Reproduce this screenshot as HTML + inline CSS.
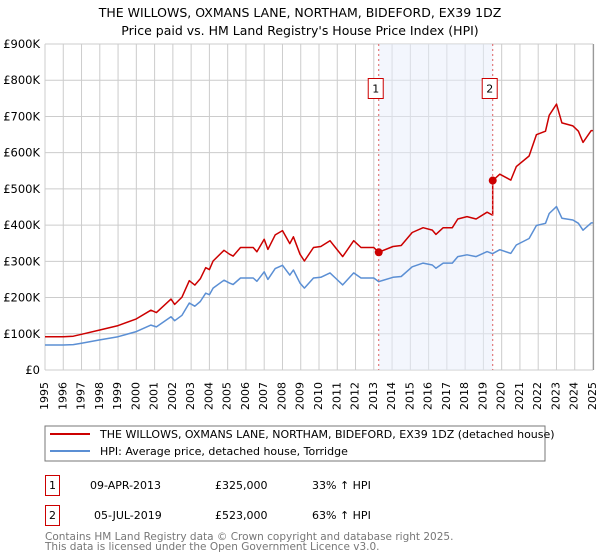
<!DOCTYPE html>
<html><head><meta charset="utf-8">
<style>
body{margin:0;background:#fff;font-family:"DejaVu Sans","Liberation Sans",sans-serif;}
#wrap{position:relative;width:600px;height:560px;overflow:hidden;}
svg text{font-family:"DejaVu Sans","Liberation Sans",sans-serif;}
.xt{position:absolute;top:382px;width:14px;height:34px;font-size:11px;line-height:14px;white-space:nowrap;color:#000;writing-mode:vertical-rl;writing-mode:sideways-lr;text-align:right;}
</style></head>
<body>
<div id="wrap">
<svg id="chart" width="600" height="560" style="position:absolute;left:0;top:0">
<text x="300" y="17" text-anchor="middle" font-size="12.5" fill="#000">THE WILLOWS, OXMANS LANE, NORTHAM, BIDEFORD, EX39 1DZ</text>
<text x="300" y="35" text-anchor="middle" font-size="12.5" fill="#000">Price paid vs. HM Land Registry's House Price Index (HPI)</text>
<g id="grid"></g>
<g id="shade"></g>
<g id="series"></g>
<g id="axes"></g>
<rect x="45" y="426" width="500" height="35" fill="#fff" stroke="#777" stroke-width="1"/>
<line x1="50" y1="434" x2="90" y2="434" stroke="#cc0000" stroke-width="2"/>
<text x="100" y="438" font-size="11">THE WILLOWS, OXMANS LANE, NORTHAM, BIDEFORD, EX39 1DZ (detached house)</text>
<line x1="50" y1="451" x2="90" y2="451" stroke="#5b8fd4" stroke-width="2"/>
<text x="100" y="455" font-size="11">HPI: Average price, detached house, Torridge</text>
<g>
<rect x="45.5" y="475.5" width="14" height="20" fill="#fff" stroke="#cc0000"/>
<text x="52.5" y="489" text-anchor="middle" font-size="11">1</text>
<text x="90" y="489" font-size="11">09-APR-2013</text>
<text x="215" y="489" font-size="11">£325,000</text>
<text x="312" y="489" font-size="11">33% ↑ HPI</text>
</g>
<g>
<rect x="45.5" y="505.5" width="14" height="20" fill="#fff" stroke="#cc0000"/>
<text x="52.5" y="519" text-anchor="middle" font-size="11">2</text>
<text x="94" y="519" font-size="11">05-JUL-2019</text>
<text x="215" y="519" font-size="11">£523,000</text>
<text x="312" y="519" font-size="11">63% ↑ HPI</text>
</g>
<text x="45" y="540" font-size="10.5" fill="#777">Contains HM Land Registry data © Crown copyright and database right 2025.</text>
<text x="45" y="550" font-size="10.5" fill="#777">This data is licensed under the Open Government Licence v3.0.</text>
</svg>
<div id="xlabels"></div>
</div>
<script>
const yearTicks=[1995,1996,1997,1998,1999,2000,2001,2002,2003,2004,2005,2006,2007,2008,2009,2010,2011,2012,2013,2014,2015,2016,2017,2018,2019,2020,2021,2022,2023,2024,2025];
const valueTicks=[0,100000,200000,300000,400000,500000,600000,700000,800000,900000];
const valueTickLabels=["£0","£100K","£200K","£300K","£400K","£500K","£600K","£700K","£800K","£900K"];
const hpiYears=[1995,1996,1996.55,1997,1998,1999,2000,2000.8,2001.1,2001.9,2002.1,2002.5,2002.9,2003.2,2003.5,2003.8,2004.0,2004.2,2004.8,2005.1,2005.3,2005.7,2006.4,2006.6,2007.0,2007.2,2007.6,2008.0,2008.4,2008.6,2008.96,2009.2,2009.7,2010.1,2010.6,2010.9,2011.3,2011.9,2012.3,2013.0,2013.27,2014.05,2014.5,2015.1,2015.7,2016.2,2016.4,2016.8,2017.3,2017.6,2018.1,2018.6,2019.2,2019.5,2019.9,2020.5,2020.8,2021.5,2021.9,2022.4,2022.6,2023.0,2023.3,2023.9,2024.2,2024.45,2024.9,2025];
const hpiValues=[69,69,70,74,83,92,106,124,119,147,136,151,185,176,189,212,208,226,248,240,236,254,254,245,271,250,280,289,262,276,240,226,254,256,268,254,235,268,254,254,244,256,258,285,295,290,281,295,295,313,318,313,327,321,332,322,345,363,399,405,432,451,419,414,405,386,406,406];
const saleYears=[2013.27,2019.51];
const salePrices=[325000,523000];

const svg=document.getElementById('chart');
const NS='http://www.w3.org/2000/svg';
const L=45,R=593,T=44,B=370,Y0=1995,Y1=2025,VMAX=900000;
function xs(y){return L+(y-Y0)/(Y1-Y0)*(R-L);}
function ys(v){return B-v/VMAX*(B-T);}
function mk(tag,attrs,parent){const e=document.createElementNS(NS,tag);for(const k in attrs)e.setAttribute(k,attrs[k]);parent.appendChild(e);return e;}
const grid=document.getElementById('grid'),axes=document.getElementById('axes'),series=document.getElementById('series'),shade=document.getElementById('shade');
const xl=document.getElementById('xlabels');

yearTicks.forEach(yr=>{
  const x=xs(yr);
  const gl=mk('line',{x1:x,x2:x,y1:T,y2:B,stroke:'#cccccc','stroke-width':1},grid);
  
  
  const d=document.createElement('div');
  d.className='xt';
  d.textContent=yr;
  d.style.left=(x-7)+'px';
  
  
  xl.appendChild(d);
});
valueTicks.forEach((v,i)=>{
  const y=ys(v);
  const gl=mk('line',{x1:L,x2:R,y1:y,y2:y,stroke:'#cccccc','stroke-width':1},grid);
  
  
  const t=mk('text',{x:40,y:y+4,'font-size':11.5,'text-anchor':'end'},axes);
  t.textContent=valueTickLabels[i];
  
  
});
const rb=mk('line',{x1:R+0.5,x2:R+0.5,y1:T,y2:B,stroke:'#999','stroke-width':1.2},axes);



const sr=mk('rect',{x:xs(saleYears[0]),y:T,width:xs(saleYears[1])-xs(saleYears[0]),height:B-T,fill:'#e8eefc','fill-opacity':0.5},shade);



function hpiAt(yr){
  for(let i=0;i<hpiYears.length-1;i++){
    if(yr>=hpiYears[i]&&yr<=hpiYears[i+1]){const f=(yr-hpiYears[i])/(hpiYears[i+1]-hpiYears[i]);return hpiValues[i]+f*(hpiValues[i+1]-hpiValues[i]);}
  }
  return hpiValues[hpiValues.length-1];
}
const ratios=saleYears.map((s,i)=>salePrices[i]/(hpiAt(s)*1000));
function ratioAt(yr){return yr<saleYears[1]?ratios[0]:ratios[1];}

let bp='',rp='';
hpiYears.forEach((yr,i)=>{
  bp+=(i?'L':'M')+xs(yr).toFixed(1)+','+ys(hpiValues[i]*1000).toFixed(1);
});
const pts=[];
hpiYears.forEach((yr,i)=>{
  if(yr>saleYears[1]&&pts.length&&pts[pts.length-1][0]<saleYears[1]){
    pts.push([saleYears[1],hpiAt(saleYears[1])*1000*ratios[0]]);
    pts.push([saleYears[1],salePrices[1]]);
  }
  pts.push([yr,hpiValues[i]*1000*ratioAt(yr)]);
});
pts.forEach((p,i)=>{rp+=(i?'L':'M')+xs(p[0]).toFixed(1)+','+ys(p[1]).toFixed(1);});
const bl=mk('path',{d:bp,fill:'none',stroke:'#5b8fd4','stroke-width':1.5,'stroke-linejoin':'round'},series);


const rl=mk('path',{d:rp,fill:'none',stroke:'#cc0000','stroke-width':1.5,'stroke-linejoin':'round'},series);



saleYears.forEach((s,i)=>{
  const x=xs(s);
  const vl=mk('line',{x1:x,x2:x,y1:T,y2:B,stroke:'#e06060','stroke-width':1,'stroke-dasharray':'2,3'},series);
  
  
  const dot=mk('circle',{cx:x,cy:ys(salePrices[i]),r:4,fill:'#cc0000'},series);
  
  
  const bx=mk('rect',{x:x-10.5,y:78.5,width:15,height:20,fill:'#fff',stroke:'#cc0000'},series);
  
  
  const bt=mk('text',{x:x-3,y:92.5,'font-size':11,'text-anchor':'middle'},series);
  bt.textContent=String(i+1);
  
  
});
</script>
</body></html>
